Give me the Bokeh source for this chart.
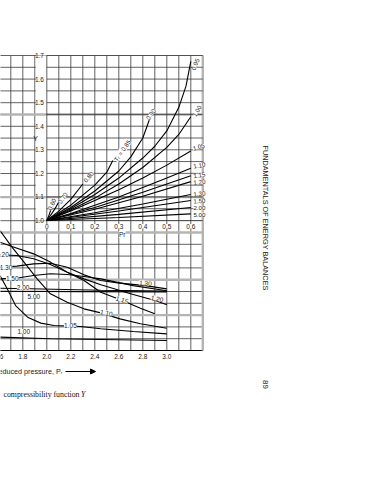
import numpy as np
from bokeh.plotting import figure
from bokeh.models import Range1d, Label, LabelSet, ColumnDataSource, Arrow, NormalHead
from bokeh.embed import file_html
from bokeh.resources import INLINE
from bokeh.core.properties import value

FONT = "Liberation Sans"
SERIF = "Liberation Serif"
INK = "#1a1a1a"

# ---------------- inset data: Y vs Pr (0 - 0.6) ----------------
in_060_pr = [0.0, 0.01, 0.02]
in_060_y = [1.0, 1.025, 1.055]
in_070_pr = [0.0, 0.02, 0.04, 0.05]
in_070_y = [1.0, 1.028, 1.06, 1.08]
in_080_pr = [0.0, 0.05, 0.10, 0.15]
in_080_y = [1.0, 1.04, 1.09, 1.155]
in_085_pr = [0.0, 0.10, 0.20, 0.25, 0.275]
in_085_y = [1.0, 1.065, 1.15, 1.205, 1.255]
in_090_pr = [0.0, 0.10, 0.20, 0.30, 0.35, 0.40, 0.43]
in_090_y = [1.0, 1.055, 1.125, 1.21, 1.27, 1.35, 1.435]
in_095_pr = [0.0, 0.10, 0.20, 0.30, 0.40, 0.45, 0.50, 0.55, 0.58, 0.60]
in_095_y = [1.0, 1.05, 1.11, 1.18, 1.265, 1.315, 1.38, 1.48, 1.57, 1.675]
in_100_pr = [0.0, 0.10, 0.20, 0.30, 0.40, 0.50, 0.55, 0.60]
in_100_y = [1.0, 1.045, 1.095, 1.155, 1.225, 1.31, 1.365, 1.44]
in_105_pr = [0.0, 0.10, 0.20, 0.30, 0.40, 0.50, 0.60]
in_105_y = [1.0, 1.04, 1.085, 1.13, 1.18, 1.235, 1.295]
in_110_pr = [0.0, 0.10, 0.20, 0.30, 0.40, 0.50, 0.60]
in_110_y = [1.0, 1.03, 1.065, 1.10, 1.14, 1.18, 1.222]
in_115_pr = [0.0, 0.20, 0.40, 0.60]
in_115_y = [1.0, 1.055, 1.12, 1.19]
in_120_pr = [0.0, 0.20, 0.40, 0.60]
in_120_y = [1.0, 1.048, 1.103, 1.165]
in_130_pr = [0.0, 0.20, 0.40, 0.60]
in_130_y = [1.0, 1.033, 1.07, 1.11]
in_150_pr = [0.0, 0.30, 0.60]
in_150_y = [1.0, 1.04, 1.085]
in_200_pr = [0.0, 0.30, 0.60]
in_200_y = [1.0, 1.026, 1.055]
in_500_pr = [0.0, 0.30, 0.60]
in_500_y = [1.0, 1.013, 1.028]

inset_curves = [
    (in_060_pr, in_060_y), (in_070_pr, in_070_y), (in_080_pr, in_080_y),
    (in_085_pr, in_085_y), (in_090_pr, in_090_y), (in_095_pr, in_095_y),
    (in_100_pr, in_100_y), (in_105_pr, in_105_y), (in_110_pr, in_110_y),
    (in_115_pr, in_115_y), (in_120_pr, in_120_y), (in_130_pr, in_130_y),
    (in_150_pr, in_150_y), (in_200_pr, in_200_y), (in_500_pr, in_500_y),
]

ilab_text = ["0.60", "0.70", "0.80", "T\u1d63 = 0.85", "0.90", "0.95", "1.00", "1.05",
             "1.10", "1.15", "1.20", "1.30", "1.50", "2.00", "5.00"]
ilab_x = [0.0225, 0.0675, 0.175, 0.314, 0.435, 0.62, 0.627, 0.633,
          0.636, 0.636, 0.636, 0.636, 0.636, 0.636, 0.636]
ilab_y = [1.068, 1.095, 1.184, 1.297, 1.45, 1.662, 1.464, 1.311,
          1.233, 1.191, 1.162, 1.113, 1.082, 1.052, 1.025]
ilab_ang = [65, 55, 50, 55, 55, 68, 60, 15, 10, 8, 5, 5, 3, 0, 0]

inset_xticks = [0.0, 0.1, 0.2, 0.3, 0.4, 0.5, 0.6]
inset_xtick_labels = ["0", "0.1", "0.2", "0.3", "0.4", "0.5", "0.6"]
inset_yticks = [1.0, 1.1, 1.2, 1.3, 1.4, 1.5, 1.6, 1.7]
inset_ytick_labels = ["1.0", "1.1", "1.2", "1.3", "1.4", "1.5", "1.6", "1.7"]

# ---------------- main chart data: Y vs Pr (1.6 - 3.0) ----------------
m_100_pr = [1.61, 2.03, 2.45, 3.0]
m_100_y = [0.613, 0.599, 0.593, 0.585]
m_105_pr = [1.61, 1.67, 1.74, 1.84, 1.95, 2.06, 2.28, 2.45, 2.72, 3.0]
m_105_y = [1.135, 1.023, 0.881, 0.782, 0.732, 0.712, 0.703, 0.684, 0.661, 0.641]
m_110_pr = [1.61, 1.71, 1.81, 1.92, 2.03, 2.17, 2.31, 2.45, 2.61, 2.78, 3.0]
m_110_y = [1.517, 1.376, 1.249, 1.107, 0.98, 0.909, 0.853, 0.819, 0.768, 0.726, 0.689]
m_115_pr = [1.61, 1.71, 1.89, 2.03, 2.17, 2.31, 2.45, 2.63, 2.78, 2.9]
m_115_y = [1.418, 1.381, 1.319, 1.249, 1.164, 1.093, 0.994, 0.924, 0.859, 0.811]
m_120_pr = [1.61, 1.75, 1.89, 2.03, 2.17, 2.31, 2.45, 2.59, 2.72, 2.91, 3.0]
m_120_y = [1.311, 1.305, 1.277, 1.229, 1.164, 1.107, 1.057, 1.014, 0.975, 0.921, 0.887]
m_130_pr = [1.61, 1.75, 1.89, 2.03, 2.17, 2.31, 2.45, 2.59, 2.82, 3.0]
m_130_y = [1.206, 1.215, 1.234, 1.24, 1.206, 1.141, 1.093, 1.073, 1.05, 1.022]
m_150_pr = [1.61, 1.77, 1.89, 2.03, 2.17, 2.31, 2.45, 2.72, 3.0]
m_150_y = [1.107, 1.116, 1.136, 1.15, 1.144, 1.127, 1.107, 1.05, 1.006]
m_200_pr = [1.61, 1.86, 2.45, 3.0]
m_200_y = [1.028, 1.023, 1.011, 1.003]
m_500_pr = [1.61, 2.3, 3.0]
m_500_y = [1.002, 0.999, 0.996]

main_curves = [
    (m_100_pr, m_100_y), (m_105_pr, m_105_y), (m_110_pr, m_110_y),
    (m_115_pr, m_115_y), (m_120_pr, m_120_y), (m_130_pr, m_130_y),
    (m_150_pr, m_150_y), (m_200_pr, m_200_y), (m_500_pr, m_500_y),
]

mlab_text = ["1.00", "1.05", "1.10", "1.15", "1.20", "1.30", "1.20", "1.30", "1.50", "2.00", "5.00"]
mlab_x = [1.808, 2.197, 2.497, 2.628, 2.92, 2.822, 1.631, 1.66, 1.712, 1.803, 1.892]
mlab_y = [0.661, 0.712, 0.819, 0.93, 0.94, 1.072, 1.311, 1.206, 1.113, 1.031, 0.96]
mlab_ang = [0, 0, -12, -18, -12, -5, 0, 0, 0, 0, 0]

main_xticks = [1.6, 1.8, 2.0, 2.2, 2.4, 2.6, 2.8, 3.0]
main_xtick_labels = ["1.6", "1.8", "2.0", "2.2", "2.4", "2.6", "2.8", "3.0"]

# faint scan bands (greyish heavy rules on the page)
band_y = [2.5, 1.8, 1.5, 1.1, 0.8]

# ---------------- geometry ----------------
W, H = 367, 480
PX0, PX1, PY0, PY1 = 0, 367, 0, 480
MX0, MPX, MPX_PER = 2.0, 46.3, 120.0      # Pr 2.0 at page px 46.3
MY0, MPY, MPY_PER = 0.5, 350.0, 118.0     # Y 0.5 at page py 350
IX0, IPX, IPX_PER = 0.0, 46.3, 240.0
IY0, IPY, IPY_PER = 1.0, 220.0, 235.7

def mx(px): return MX0 + (px - MPX) / MPX_PER
def my(py): return MY0 + (MPY - py) / MPY_PER
def ix(px): return IX0 + (px - IPX) / IPX_PER
def iy(py): return IY0 + (IPY - py) / IPY_PER

p = figure(width=W, height=H, output_backend="svg", toolbar_location=None,
           x_range=Range1d(mx(PX0), mx(PX1)), y_range=Range1d(my(PY1), my(PY0)),
           x_axis_location=None, y_axis_location=None, min_border=0,
           outline_line_color=None)
p.xgrid.visible = False
p.ygrid.visible = False
p.background_fill_color = "white"
p.border_fill_color = "white"
p.extra_x_ranges = {"ix": Range1d(ix(PX0), ix(PX1)), "px": Range1d(PX0, PX1)}
p.extra_y_ranges = {"iy": Range1d(iy(PY1), iy(PY0)), "py": Range1d(PY1, PY0)}

GRID = "#3a3a3a"
GW = 0.8

# main grid
mv = [round(v, 2) for v in np.arange(1.5, 3.25, 0.1)]
mh = [round(v, 2) for v in np.arange(0.5, 3.01, 0.1)]
p.multi_line([[v, v] for v in mv], [[0.5, 3.0]] * len(mv), line_color=GRID, line_width=GW)
p.multi_line([[1.5, 3.3]] * len(mh), [[v, v] for v in mh], line_color=GRID, line_width=GW)
p.line([1.5, 3.3], [0.5, 0.5], line_color="black", line_width=1.1)

# inset white panel
p.quad(left=-0.046, right=0.65, bottom=1.0, top=1.7, x_range_name="ix", y_range_name="iy",
       fill_color="white", line_color=None)

# grey bands and right border
p.multi_line([[1.5, 3.3]] * len(band_y), [[v, v] for v in band_y],
             line_color="#b4b4b4", line_width=2.4)
p.line([3.3, 3.3], [0.5, 3.0], line_color="#b4b4b4", line_width=2.4)

# inset grid
iv = [round(v, 3) for v in np.arange(0.0, 0.61, 0.05)]
ih = [round(v, 3) for v in np.arange(1.0, 1.701, 0.05)]
p.multi_line([[v, v] for v in iv], [[1.0, 1.7]] * len(iv), line_color=GRID, line_width=GW,
             x_range_name="ix", y_range_name="iy")
p.multi_line([[0.0, 0.65]] * len(ih), [[v, v] for v in ih], line_color=GRID, line_width=GW,
             x_range_name="ix", y_range_name="iy")

# curves
for xs, ys in inset_curves:
    p.line(xs, ys, line_color="black", line_width=1.1, x_range_name="ix", y_range_name="iy")
for xs, ys in main_curves:
    p.line(xs, ys, line_color="black", line_width=1.1)

# tick labels
p.text(x=main_xticks, y=[my(355.5)] * len(main_xticks), text=main_xtick_labels,
       text_align="center", text_baseline="middle", text_font=value(FONT),
       text_font_size="6.5px", text_color=INK)

ixt = ColumnDataSource(dict(x=inset_xticks, y=[iy(226)] * len(inset_xticks), t=inset_xtick_labels))
p.add_layout(LabelSet(x="x", y="y", text="t", source=ixt, x_range_name="ix", y_range_name="iy",
                      text_align="center", text_baseline="middle", text_font=value(FONT),
                      text_font_size="6.5px", text_color=INK, background_fill_color="white"))
iyt = ColumnDataSource(dict(x=[ix(43.5)] * len(inset_yticks), y=inset_yticks, t=inset_ytick_labels))
p.add_layout(LabelSet(x="x", y="y", text="t", source=iyt, x_range_name="ix", y_range_name="iy",
                      text_align="right", text_baseline="middle", text_font=value(FONT),
                      text_font_size="6.5px", text_color=INK))
p.add_layout(Label(x=ix(35), y=iy(138), text="Y", x_range_name="ix", y_range_name="iy",
                   text_align="center", text_baseline="middle", text_font=FONT,
                   text_font_size="7px", text_color=INK))
p.add_layout(Label(x=ix(121.7), y=iy(234), text="Pr", x_range_name="ix", y_range_name="iy",
                   text_align="center", text_baseline="middle", text_font=FONT,
                   text_font_size="6.5px", text_color=INK, background_fill_color="white"))

# curve labels
isrc = ColumnDataSource(dict(x=ilab_x, y=ilab_y, t=ilab_text, a=ilab_ang))
p.add_layout(LabelSet(x="x", y="y", text="t", angle="a", angle_units="deg", source=isrc,
                      x_range_name="ix", y_range_name="iy", text_align="center",
                      text_baseline="middle", text_font=value(FONT), text_font_size="6.2px",
                      text_color=INK, background_fill_color="white"))
msrc = ColumnDataSource(dict(x=mlab_x, y=mlab_y, t=mlab_text, a=mlab_ang))
p.add_layout(LabelSet(x="x", y="y", text="t", angle="a", angle_units="deg", source=msrc,
                      text_align="center", text_baseline="middle", text_font=value(FONT),
                      text_font_size="6.5px", text_color=INK, background_fill_color="white"))

# axis title under main chart
p.add_layout(Label(x=62, y=371, text="Reduced pressure, P\u1d63", x_range_name="px", y_range_name="py",
                   text_align="right", text_baseline="middle", text_font=FONT,
                   text_font_size="7.2px", text_color=INK))
p.add_layout(Arrow(end=NormalHead(size=5, fill_color="black", line_color="black"),
                   x_start=65, y_start=371, x_end=95, y_end=371, x_range_name="px",
                   y_range_name="py", line_width=1.1))

# page texts
p.add_layout(Label(x=3, y=394, text="compressibility function", x_range_name="px", y_range_name="py",
                   text_align="left", text_baseline="middle", text_font=SERIF,
                   text_font_size="7.8px", text_color="#111"))
p.add_layout(Label(x=80.5, y=394, text="Y", x_range_name="px", y_range_name="py",
                   text_align="left", text_baseline="middle", text_font=SERIF,
                   text_font_style="italic", text_font_size="7.8px", text_color="#111"))
p.add_layout(Label(x=265, y=217.5, text="FUNDAMENTALS OF ENERGY BALANCES", x_range_name="px",
                   y_range_name="py", angle=-90, angle_units="deg", text_align="center",
                   text_baseline="middle", text_font=FONT, text_font_size="7.3px",
                   text_color=INK))
p.add_layout(Label(x=265, y=384, text="89", x_range_name="px", y_range_name="py",
                   angle=-90, angle_units="deg", text_align="center", text_baseline="middle",
                   text_font=FONT, text_font_size="8px", text_color=INK))

open("out.html", "w").write(file_html(p, INLINE))
